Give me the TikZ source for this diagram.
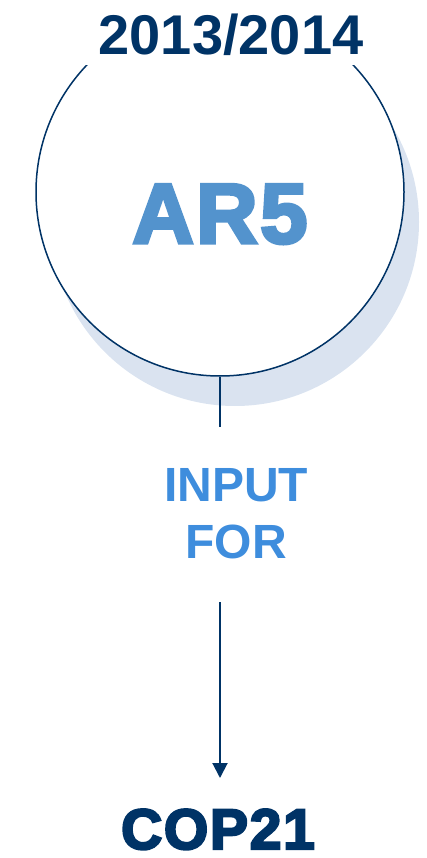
\documentclass[tikz,border=0pt]{standalone}
\usepackage{fontspec}
\setmainfont{Liberation Sans}
\newfontfamily\heavyfont[FakeBold=4,LetterSpace=3]{Liberation Sans Bold}
\usetikzlibrary{arrows.meta}
\definecolor{navy}{RGB}{0,51,102}
\definecolor{arblue}{RGB}{83,147,205}
\definecolor{inblue}{RGB}{62,141,221}
\definecolor{shadowblue}{RGB}{218,227,240}
\tikzset{
  conn/.style={draw=navy, line width=2pt},
  yearlbl/.style={font=\fontsize{56}{60}\selectfont\bfseries, text=navy, fill=white, inner xsep=14pt, inner ysep=10pt, text height=41pt, text depth=0pt},
  bigcirc/.style={circle, draw=navy, line width=1.5pt, fill=white, minimum size=368pt, inner sep=0pt},
}
\begin{document}
\begin{tikzpicture}[x=1pt,y=-1pt]
\useasboundingbox (0,0) rectangle (427,858);
% shadow
\fill[shadowblue] (235,222) circle[radius=184];
\node[bigcirc] (circ) at (220,192) {};
\node[yearlbl, anchor=south] (year) at (231,65) {2013/2014};
\node[anchor=base, text=arblue, font=\heavyfont\fontsize{85}{88}\selectfont, inner sep=0pt] (ar) at (220,243) {AR5};
\node[anchor=north, text=inblue, font=\bfseries\fontsize{48}{57}\selectfont, align=center, inner sep=0pt] (input) at (236,468) {INPUT\\FOR};
\node[anchor=base, text=navy, font=\heavyfont\fontsize{57}{60}\selectfont, inner sep=0pt] (cop) at (218,849) {COP21};
\coordinate (l1end) at (220,427);
\coordinate (l2start) at (220,602);
\coordinate (l2end) at (220,778);
\draw[conn] (circ.south) -- (l1end);
\draw[conn, -{Triangle[width=15pt,length=15pt]}] (l2start) -- (l2end);
\end{tikzpicture}
\end{document}
